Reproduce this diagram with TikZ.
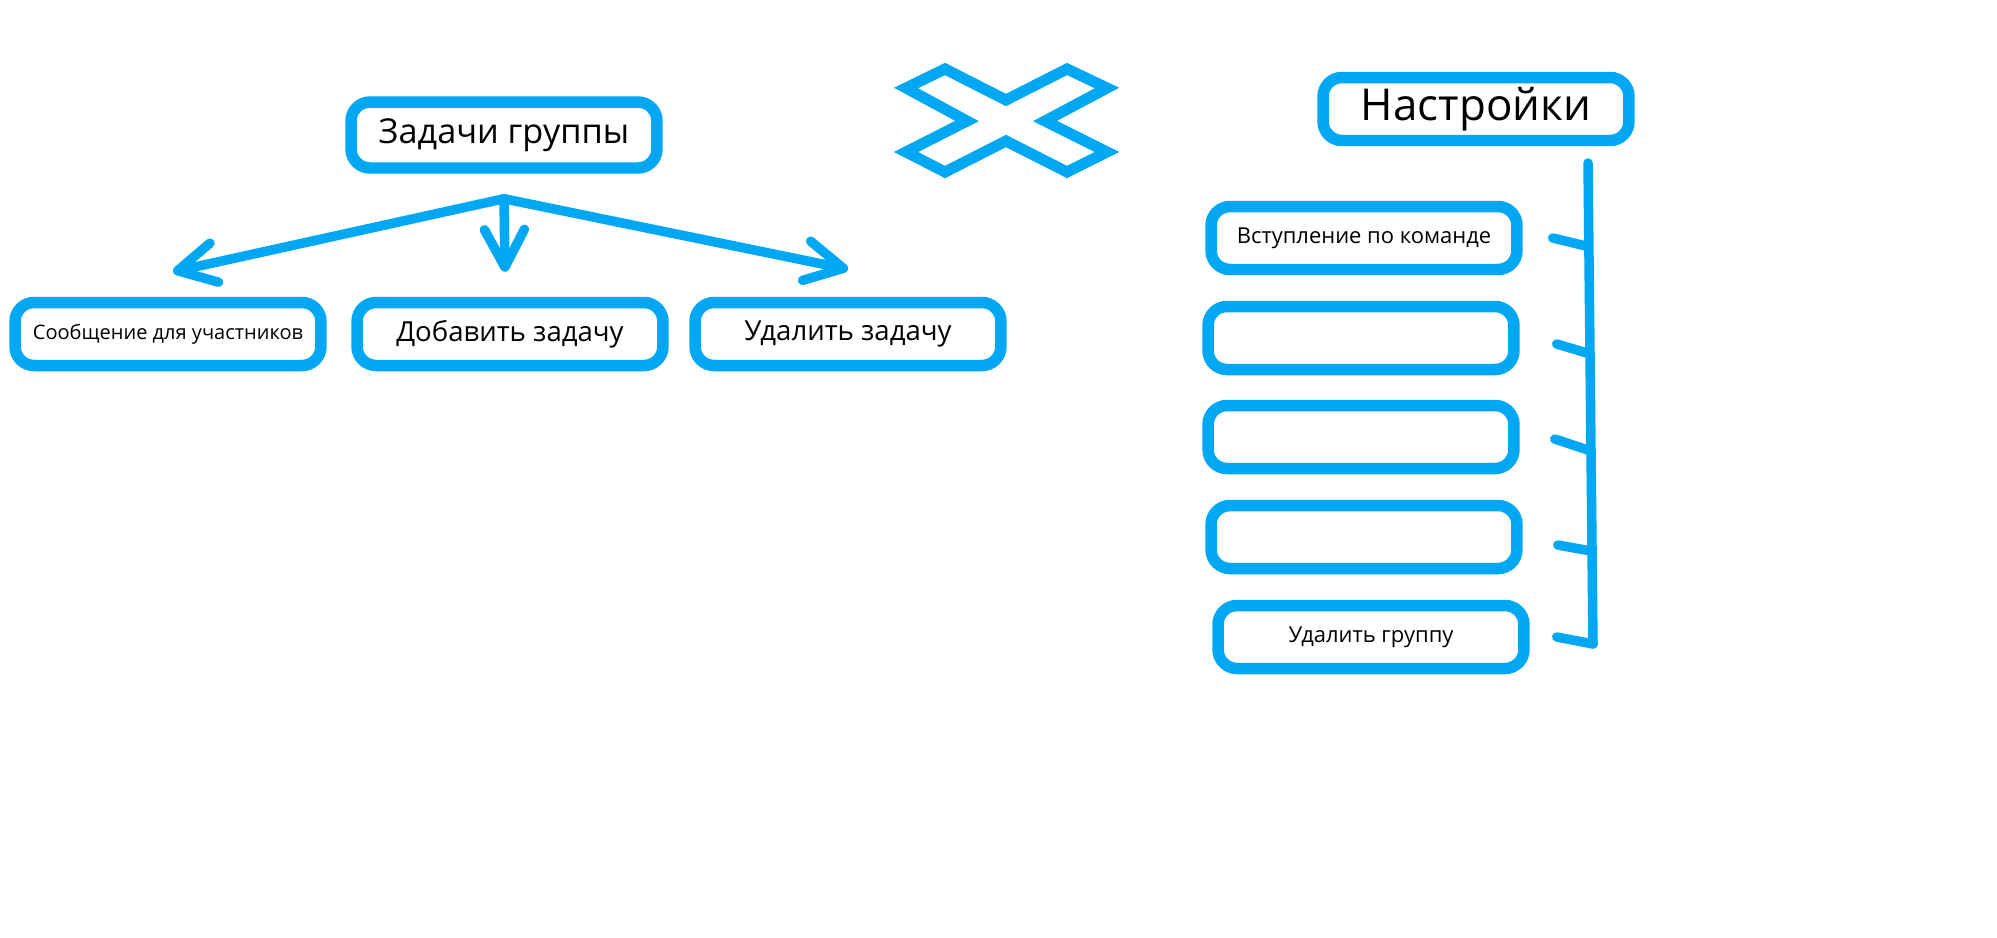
\documentclass[tikz,border=0pt]{standalone}
\usepackage{fontspec}
\setmainfont{Open Sans}
\usetikzlibrary{arrows.meta}
\definecolor{paintblue}{RGB}{0,168,243}
\newcommand{\bw}{6.12cm}
\newcommand{\bh}{1.26cm}

\begin{document}
\begin{tikzpicture}[x=0.02cm, y=-0.02cm,
    box/.style={draw=paintblue, line width=0.23cm, rounded corners=0.38cm, minimum width=\bw, minimum height=\bh, inner sep=0pt},
    link/.style={draw=paintblue, line width=0.19cm, line cap=round, line join=round},
    arr/.style={link, -{Straight Barb[round, length=0.75cm, width=0.8cm]}}]
    \useasboundingbox (0,0) rectangle (1997,937);

    % Group tasks
    \node[box, minimum height=1.32cm, font=\fontsize{19.5}{22}\selectfont] (tasks) at (504,135) {Задачи группы};
    \node[box, font=\fontsize{11.4}{13}\selectfont] (message) at (168,334) {Сообщение для участников};
    \node[box, font=\fontsize{15.7}{18}\selectfont] (addtask) at (510,334) {Добавить задачу};
    \node[box, font=\fontsize{15.7}{18}\selectfont] (deltask) at (848,334) {Удалить задачу};

    \coordinate (fork) at ([yshift=-0.5cm]tasks.south);
    \draw[arr] (fork) -- ([xshift=0.1cm,yshift=0.5cm]message.north);
    \draw[arr] (fork) -- ([xshift=-0.1cm,yshift=0.5cm]addtask.north);
    \draw[arr] (fork) -- ([yshift=0.55cm]deltask.north);

    % Close
    \draw[paintblue, line width=0.22cm, line join=miter] (945,69) -- (1006,100) -- (1067,69) -- (1107,88) -- (1045,121) -- (1107,152) -- (1067,172) -- (1006,141) -- (945,172) -- (906,152) -- (967,121) -- (906,88) -- cycle;

    % Settings
    \node[box, font=\fontsize{25}{28}\selectfont] (settings) at (1476,109) {Настройки};
    \node[box, font=\fontsize{12.5}{15}\selectfont] (opt-1) at (1364,238) {Вступление по команде};
    \node[box] (opt-2) at (1361,338) {};
    \node[box] (opt-3) at (1361,437) {};
    \node[box] (opt-4) at (1364,537) {};
    \node[box, font=\fontsize{12.5}{15}\selectfont] (opt-5) at (1371,637) {Удалить группу};

    \coordinate (spine-top) at (1588,163);
    \coordinate (spine-1) at (1586,246);
    \coordinate (spine-2) at (1587,353);
    \coordinate (spine-3) at (1588,450);
    \coordinate (spine-4) at (1591,551);
    \coordinate (spine-5) at (1593,644);

    \draw[link] (spine-top) -- (spine-5);
    \draw[link] ([xshift=0.6cm]opt-1.east) -- (spine-1);
    \draw[link] ([xshift=0.74cm,yshift=-0.12cm]opt-2.east) -- (spine-2);
    \draw[link] ([xshift=0.7cm,yshift=-0.04cm]opt-3.east) -- (spine-3);
    \draw[link] ([xshift=0.7cm,yshift=-0.16cm]opt-4.east) -- (spine-4);
    \draw[link] ([xshift=0.54cm]opt-5.east) -- (spine-5);

\end{tikzpicture}
\end{document}
